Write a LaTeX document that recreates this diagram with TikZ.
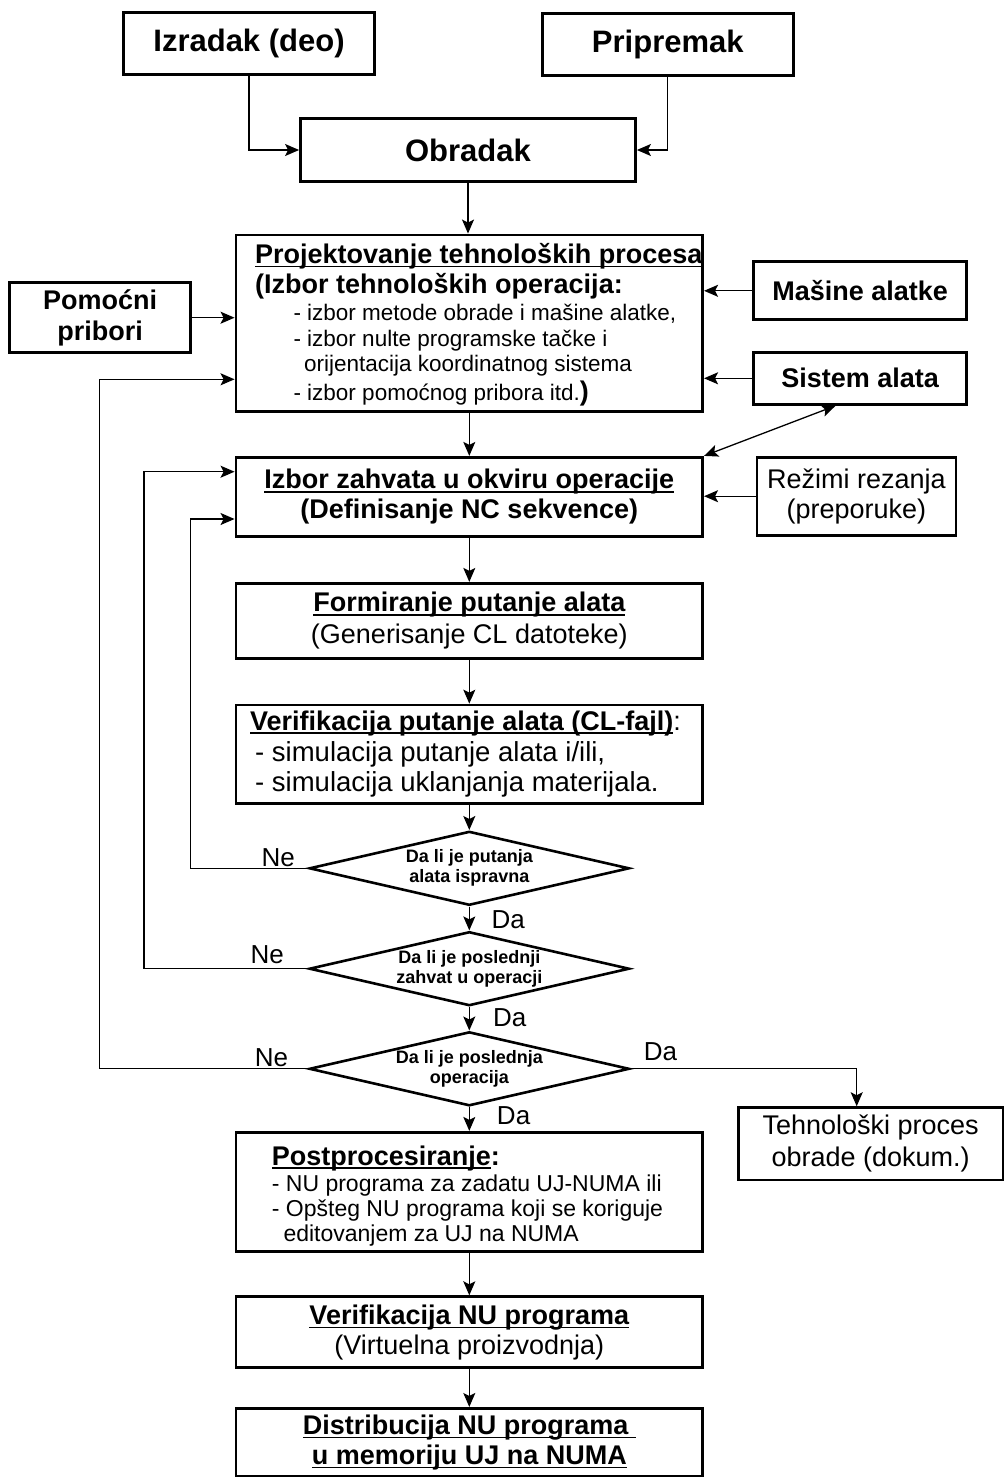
\documentclass[tikz,border=0pt]{standalone}
\usepackage{fontspec}
\setmainfont{Liberation Sans}
\newcommand{\ulbar}[1]{\setbox0\hbox{#1}\rlap{\rule[-4pt]{\wd0}{1.6pt}}\box0}
\usetikzlibrary{arrows.meta,shapes.geometric}

\begin{document}
\begin{tikzpicture}[x=1pt,y=-1pt,>={Stealth[length=14pt,width=12pt,inset=3pt]},
  box/.style={draw,line width=2.8pt,inner sep=0pt,align=center},
  dec/.style={draw,diamond,line width=2.6pt,inner sep=0pt,aspect=4.3,align=center,minimum width=320pt,minimum height=74pt,font=\bfseries\fontsize{18}{20}\selectfont},
  link/.style={->,line width=1.3pt},
  txt/.style={anchor=base west,inner sep=0pt},
  yesno/.style={anchor=base,inner sep=0pt,font=\fontsize{26}{28}\selectfont}]
\useasboundingbox (0,0) rectangle (1004,1478);
\node[box,minimum width=251pt,minimum height=62pt,font=\bfseries\fontsize{31}{36}\selectfont] (izradak) at (249,43.3) {Izradak (deo)};
\node[box,minimum width=251pt,minimum height=62pt,font=\bfseries\fontsize{31}{36}\selectfont] (pripremak) at (667.8,44.3) {Pripremak};
\node[box,minimum width=335pt,minimum height=63pt,font=\bfseries\fontsize{31}{36}\selectfont] (obradak) at (468,150) {Obradak};
\node[box,minimum width=466.7pt,minimum height=176.7pt] (projekt) at (469.3,323.3) {};
\node[txt,font=\bfseries\fontsize{27}{30}\selectfont] (projektA) at (255,263.3) {\ulbar{Projektovanje tehnoloških procesa}};
\node[txt,font=\bfseries\fontsize{27}{30}\selectfont] (projektB) at (255,293.3) {(Izbor tehnoloških operacija:};
\node[txt,font=\fontsize{22.5}{25}\selectfont] (projektC) at (293.3,320) {- izbor metode obrade i mašine alatke,};
\node[txt,font=\fontsize{22.5}{25}\selectfont] (projektD) at (293.3,346.7) {- izbor nulte programske tačke i};
\node[txt,font=\fontsize{22.5}{25}\selectfont] (projektE) at (304,371.7) {orijentacija koordinatnog sistema};
\node[txt,font=\fontsize{22.5}{25}\selectfont] (projektF) at (293.3,400) {- izbor pomoćnog pribora itd.{\bfseries\fontsize{27}{30}\selectfont)}};
\node[box,minimum width=181pt,minimum height=70pt,font=\bfseries\fontsize{27}{31.6}\selectfont] (pomocni) at (100.2,317.7) {Pomoćni\\pribori};
\node[box,minimum width=213pt,minimum height=58pt,font=\bfseries\fontsize{27}{30}\selectfont] (masine) at (860.2,290.8) {Mašine alatke};
\node[box,minimum width=213pt,minimum height=52pt,font=\bfseries\fontsize{27}{30}\selectfont] (sistem) at (860.2,378.3) {Sistem alata};
\node[box,minimum width=466.7pt,minimum height=79.4pt,font=\bfseries\fontsize{27}{30}\selectfont] (zahvat) at (469.3,497) {\ulbar{Izbor zahvata u okviru operacije}\\(Definisanje NC sekvence)};
\node[box,minimum width=199pt,minimum height=78pt,font=\fontsize{27}{30}\selectfont] (rezimi) at (856.4,496.2) {Režimi rezanja\\(preporuke)};
\node[box,minimum width=466.7pt,minimum height=75pt,font=\fontsize{27}{32}\selectfont] (formir) at (469.3,620.8) {{\bfseries\ulbar{Formiranje putanje alata}}\\(Generisanje CL datoteke)};
\node[box,minimum width=466.7pt,minimum height=98.3pt] (verif) at (469.3,754.2) {};
\node[txt,font=\bfseries\fontsize{27}{30}\selectfont] (verifA) at (250,730) {\ulbar{Verifikacija putanje alata (CL-fajl)}{\mdseries:}};
\node[txt,font=\fontsize{27.5}{30}\selectfont] (verifB) at (255,761.7) {- simulacija putanje alata i/ili,};
\node[txt,font=\fontsize{27.5}{30}\selectfont] (verifC) at (255,791.7) {- simulacija uklanjanja materijala.};
\node[dec] (d1) at (469.3,868.3) {Da li je putanja\\alata ispravna};
\node[dec] (d2) at (469.3,968.7) {Da li je poslednji\\zahvat u operacji};
\node[dec] (d3) at (469.3,1068.8) {Da li je poslednja\\operacija};
\node[yesno] (ne1) at (278.3,866.7) {Ne};
\node[yesno] (da1) at (508.3,928.3) {Da};
\node[yesno] (ne2) at (267.3,963.3) {Ne};
\node[yesno] (da2) at (509.7,1026.7) {Da};
\node[yesno] (ne3) at (271.5,1066) {Ne};
\node[yesno] (da3) at (660.4,1060.7) {Da};
\node[yesno] (da4) at (513.6,1124) {Da};
\node[box,minimum width=264.7pt,minimum height=72.3pt,font=\fontsize{27}{31.7}\selectfont] (tehno) at (870.7,1143.8) {Tehnološki proces\\obrade (dokum.)};
\node[box,minimum width=466.7pt,minimum height=119.4pt] (post) at (469.3,1192) {};
\node[txt,font=\bfseries\fontsize{27}{30}\selectfont] (postA) at (271.7,1165) {\ulbar{Postprocesiranje}:};
\node[txt,font=\fontsize{23}{25}\selectfont] (postB) at (271.7,1191.7) {- NU programa za zadatu UJ-NUMA ili};
\node[txt,font=\fontsize{23}{25}\selectfont] (postC) at (271.7,1216.7) {- Opšteg NU programa koji se koriguje};
\node[txt,font=\fontsize{23}{25}\selectfont] (postD) at (283.3,1241.7) {editovanjem za UJ na NUMA};
\node[box,minimum width=466.7pt,minimum height=71pt,font=\fontsize{27}{30}\selectfont] (vernu) at (469.3,1332.2) {{\bfseries\ulbar{Verifikacija NU programa}}\\(Virtuelna proizvodnja)};
\node[box,minimum width=466.7pt,minimum height=67.7pt,font=\bfseries\fontsize{27}{30}\selectfont] (distr) at (469.3,1442.2) {\ulbar{Distribucija NU programa\ }\\\ulbar{u memoriju UJ na NUMA}};
\coordinate (back1) at (190.2,868.3);
\coordinate (back2) at (144,968.7);
\coordinate (back3) at (99.2,1068.8);
\draw[link] (izradak) |- (obradak);
\draw[link] (pripremak) |- (obradak);
\draw[link] (obradak) -- (obradak.south |- projekt.north);
\draw[link] (pomocni.east) -- (pomocni.east -| projekt.west);
\draw[link] (masine.west) -- (masine.west -| projekt.east);
\draw[link] (sistem.west) -- (sistem.west -| projekt.east);
\draw[link,<->] (zahvat.north east) -- ([xshift=-24.6pt]sistem.south);
\draw[link] (projekt) -- (zahvat);
\draw[link] (rezimi.west) -- (rezimi.west -| zahvat.east);
\draw[link] (zahvat) -- (formir);
\draw[link] (formir) -- (verif);
\draw[link] (verif) -- (d1);
\draw[link] (d1) -- (d2);
\draw[link] (d2) -- (d3);
\draw[link] (d3) -- (post);
\draw[link] (post) -- (vernu);
\draw[link] (vernu) -- (distr);
\draw[link] (d1.west) -- (back1) |- ([yshift=-22pt]zahvat.west);
\draw[link] (d2.west) -- (back2) |- ([yshift=25.3pt]zahvat.west);
\draw[link] (d3.west) -- (back3) |- ([yshift=-56pt]projekt.west);
\draw[link] (d3.east) -| ([xshift=-14pt]tehno.north);
\end{tikzpicture}
\end{document}
